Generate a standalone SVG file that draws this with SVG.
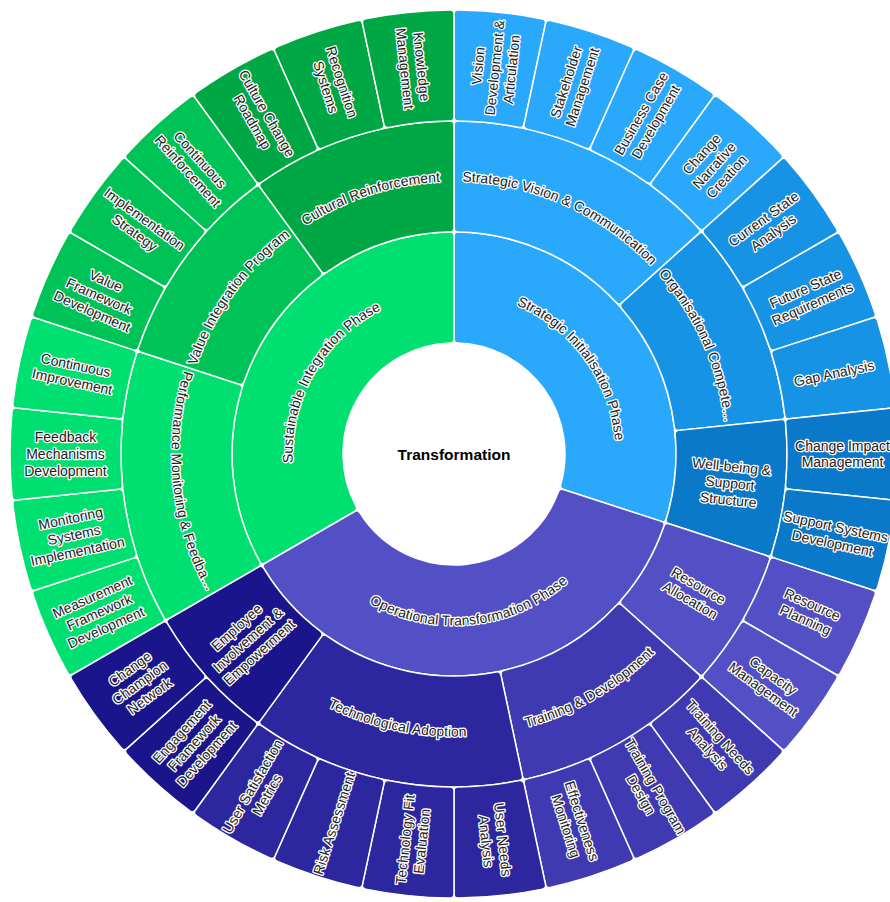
<svg xmlns="http://www.w3.org/2000/svg" width="890" height="902" viewBox="0 0 890 902">
<style>
.seg{stroke:#fff;stroke-width:1.5;stroke-linejoin:round}
.lbl{font-family:"Liberation Sans",Arial,sans-serif;font-size:14px;fill:#222;stroke:#fff;stroke-width:2.6;stroke-linejoin:round;paint-order:stroke;text-anchor:middle;dominant-baseline:central}
.arc{font-family:"Liberation Sans",Arial,sans-serif;font-size:14px;fill:#222;stroke:#fff;stroke-width:2.6;stroke-linejoin:round;paint-order:stroke;text-anchor:middle}
.ctr{font-family:"Liberation Sans",Arial,sans-serif;font-size:15.5px;font-weight:bold;fill:#000;text-anchor:middle;dominant-baseline:central}
</style>
<defs>
<path id="leaf" d="M0,-337 L0,-440 Q0,-444 4,-443.98 A444,444 0 0 1 88.40,-435.11 Q92.31,-434.30 91.48,-430.39 L70.07,-329.64 Q69.23,-325.72 65.32,-326.53 A333,333 0 0 0 4,-332.98 Q0,-333 0,-337 Z"/>
<path id="r2w48" d="M0,-226 L0,-329 Q0,-333 4,-332.98 A333,333 0 0 1 244.77,-225.78 Q247.47,-222.82 244.50,-220.14 L167.95,-151.22 Q164.98,-148.55 162.28,-151.50 A222,222 0 0 0 4,-221.96 Q0,-222 0,-226 Z"/>
<path id="r2w36" d="M0,-226 L0,-329 Q0,-333 4,-332.98 A333,333 0 0 1 192.48,-271.73 Q195.73,-269.40 193.38,-266.17 L132.84,-182.84 Q130.49,-179.60 127.23,-181.92 A222,222 0 0 0 4,-221.96 Q0,-222 0,-226 Z"/>
<path id="r2w24" d="M0,-226 L0,-329 Q0,-333 4,-332.98 A333,333 0 0 1 131.78,-305.82 Q135.44,-304.21 133.82,-300.56 L91.92,-206.46 Q90.30,-202.81 86.63,-204.40 A222,222 0 0 0 4,-221.96 Q0,-222 0,-226 Z"/>
<path id="r1w108" d="M0,-115 L0,-218 Q0,-222 4,-221.96 A222,222 0 0 1 212.34,64.79 Q211.14,68.60 207.33,67.37 L109.37,35.54 Q105.57,34.30 106.73,30.48 A111,111 0 0 0 4,-110.93 Q0,-111 0,-115 Z"/>
<path id="r1w132" d="M0,-115 L0,-218 Q0,-222 4,-221.96 A222,222 0 0 1 167.63,145.55 Q164.98,148.55 162.01,145.87 L85.46,76.95 Q82.49,74.27 85.11,71.25 A111,111 0 0 0 4,-110.93 Q0,-111 0,-115 Z"/>
<path id="r1w120" d="M0,-115 L0,-218 Q0,-222 4,-221.96 A222,222 0 0 1 194.23,107.52 Q192.26,111 188.79,109 L99.59,57.5 Q96.13,55.5 98.07,52.00 A111,111 0 0 0 4,-110.93 Q0,-111 0,-115 Z"/>
<path id="tp-strat" d="M0,-161.5 A161.5,161.5 0 0 1 153.60,49.91"/>
<path id="tp-oper" d="M-148.52,85.75 A171.5,171.5 0 0 0 163.11,53.00"/>
<path id="tp-sust" d="M-139.86,80.75 A161.5,161.5 0 0 1 0,-161.5"/>
<path id="tp-svc" d="M0,-272.5 A272.5,272.5 0 0 1 202.51,-182.34"/>
<path id="tp-org" d="M202.51,-182.34 A272.5,272.5 0 0 1 271.01,-28.48"/>
<path id="tp-train" d="M58.74,276.33 A282.5,282.5 0 0 0 209.94,189.03"/>
<path id="tp-tech" d="M-166.05,228.55 A282.5,282.5 0 0 0 58.74,276.33"/>
<path id="tp-perf" d="M-268.67,-87.30 A282.5,282.5 0 0 0 -244.65,141.25"/>
<path id="tp-value" d="M-259.16,-84.21 A272.5,272.5 0 0 1 -160.17,-220.46"/>
<path id="tp-cult" d="M-160.17,-220.46 A272.5,272.5 0 0 1 0,-272.5"/>
</defs>
<rect width="890" height="902" fill="#fff"/>
<g transform="translate(454,454)">
<g id="n-root"><circle r="111" fill="#fff"/><text class="ctr" x="0" y="0">Transformation</text></g>

<g id="n-strategic-initialisation-phase"><use href="#r1w108" class="seg" fill="#2AA9FC"/><text class="arc"><textPath href="#tp-strat" startOffset="50%">Strategic Initialisation Phase</textPath></text></g>
<g id="n-operational-transformation-phase"><use href="#r1w132" class="seg" fill="#5350C6" transform="rotate(108)"/><text class="arc"><textPath href="#tp-oper" startOffset="50%">Operational Transformation Phase</textPath></text></g>
<g id="n-sustainable-integration-phase"><use href="#r1w120" class="seg" fill="#00E070" transform="rotate(240)"/><text class="arc"><textPath href="#tp-sust" startOffset="50%">Sustainable Integration Phase</textPath></text></g>

<g id="n-strategic-vision"><use href="#r2w48" class="seg" fill="#2AA9FC"/><text class="arc"><textPath href="#tp-svc" startOffset="50%">Strategic Vision &amp; Communication</textPath></text></g>
<g id="n-organisational-competence"><use href="#r2w36" class="seg" fill="#1693E5" transform="rotate(48)"/><text class="arc"><textPath href="#tp-org" startOffset="50%">Organisational Compete…</textPath></text></g>
<g id="n-wellbeing"><use href="#r2w24" class="seg" fill="#0B79C9" transform="rotate(84)"/><text class="lbl" transform="rotate(96) translate(0,-277.5) rotate(-90)"><tspan x="0" y="-16.8">Well-being &amp;</tspan><tspan x="0" y="0">Support</tspan><tspan x="0" y="16.8">Structure</tspan></text></g>
<g id="n-resource-allocation"><use href="#r2w24" class="seg" fill="#5350C6" transform="rotate(108)"/><text class="lbl" transform="rotate(120) translate(0,-277.5) rotate(-90)"><tspan x="0" y="-8.4">Resource</tspan><tspan x="0" y="8.4">Allocation</tspan></text></g>
<g id="n-training-development"><use href="#r2w36" class="seg" fill="#3F3AB1" transform="rotate(132)"/><text class="arc"><textPath href="#tp-train" startOffset="50%">Training &amp; Development</textPath></text></g>
<g id="n-technological-adoption"><use href="#r2w48" class="seg" fill="#2D279F" transform="rotate(168)"/><text class="arc"><textPath href="#tp-tech" startOffset="50%">Technological Adoption</textPath></text></g>
<g id="n-employee-involvement"><use href="#r2w24" class="seg" fill="#1B158C" transform="rotate(216)"/><text class="lbl" transform="rotate(228) translate(0,-277.5) rotate(90)"><tspan x="0" y="-16.8">Employee</tspan><tspan x="0" y="0">Involvement &amp;</tspan><tspan x="0" y="16.8">Empowerment</tspan></text></g>
<g id="n-performance-monitoring"><use href="#r2w48" class="seg" fill="#00E070" transform="rotate(240)"/><text class="arc"><textPath href="#tp-perf" startOffset="50%">Performance Monitoring &amp; Feedba…</textPath></text></g>
<g id="n-value-integration"><use href="#r2w36" class="seg" fill="#00C357" transform="rotate(288)"/><text class="arc"><textPath href="#tp-value" startOffset="50%">Value Integration Program</textPath></text></g>
<g id="n-cultural-reinforcement"><use href="#r2w36" class="seg" fill="#00A845" transform="rotate(324)"/><text class="arc"><textPath href="#tp-cult" startOffset="50%">Cultural Reinforcement</textPath></text></g>

<g id="n-vision-development"><use href="#leaf" class="seg" fill="#2AA9FC"/><text class="lbl" transform="rotate(6) translate(0,-388.5) rotate(-90)"><tspan x="0" y="-16.8">Vision</tspan><tspan x="0" y="0">Development &amp;</tspan><tspan x="0" y="16.8">Articulation</tspan></text></g>
<g id="n-stakeholder-management"><use href="#leaf" class="seg" fill="#2AA9FC" transform="rotate(12)"/><text class="lbl" transform="rotate(18) translate(0,-388.5) rotate(-90)"><tspan x="0" y="-8.4">Stakeholder</tspan><tspan x="0" y="8.4">Management</tspan></text></g>
<g id="n-business-case"><use href="#leaf" class="seg" fill="#2AA9FC" transform="rotate(24)"/><text class="lbl" transform="rotate(30) translate(0,-388.5) rotate(-90)"><tspan x="0" y="-8.4">Business Case</tspan><tspan x="0" y="8.4">Development</tspan></text></g>
<g id="n-change-narrative"><use href="#leaf" class="seg" fill="#2AA9FC" transform="rotate(36)"/><text class="lbl" transform="rotate(42) translate(0,-388.5) rotate(-90)"><tspan x="0" y="-16.8">Change</tspan><tspan x="0" y="0">Narrative</tspan><tspan x="0" y="16.8">Creation</tspan></text></g>
<g id="n-current-state"><use href="#leaf" class="seg" fill="#1693E5" transform="rotate(48)"/><text class="lbl" transform="rotate(54) translate(0,-388.5) rotate(-90)"><tspan x="0" y="-8.4">Current State</tspan><tspan x="0" y="8.4">Analysis</tspan></text></g>
<g id="n-future-state"><use href="#leaf" class="seg" fill="#1693E5" transform="rotate(60)"/><text class="lbl" transform="rotate(66) translate(0,-388.5) rotate(-90)"><tspan x="0" y="-8.4">Future State</tspan><tspan x="0" y="8.4">Requirements</tspan></text></g>
<g id="n-gap-analysis"><use href="#leaf" class="seg" fill="#1693E5" transform="rotate(72)"/><text class="lbl" transform="rotate(78) translate(0,-388.5) rotate(-90)"><tspan x="0" y="0">Gap Analysis</tspan></text></g>
<g id="n-change-impact"><use href="#leaf" class="seg" fill="#0B79C9" transform="rotate(84)"/><text class="lbl" transform="rotate(90) translate(0,-388.5) rotate(-90)"><tspan x="0" y="-8.4">Change Impact</tspan><tspan x="0" y="8.4">Management</tspan></text></g>
<g id="n-support-systems"><use href="#leaf" class="seg" fill="#0B79C9" transform="rotate(96)"/><text class="lbl" transform="rotate(102) translate(0,-388.5) rotate(-90)"><tspan x="0" y="-8.4">Support Systems</tspan><tspan x="0" y="8.4">Development</tspan></text></g>
<g id="n-resource-planning"><use href="#leaf" class="seg" fill="#5350C6" transform="rotate(108)"/><text class="lbl" transform="rotate(114) translate(0,-388.5) rotate(-90)"><tspan x="0" y="-8.4">Resource</tspan><tspan x="0" y="8.4">Planning</tspan></text></g>
<g id="n-capacity-management"><use href="#leaf" class="seg" fill="#5350C6" transform="rotate(120)"/><text class="lbl" transform="rotate(126) translate(0,-388.5) rotate(-90)"><tspan x="0" y="-8.4">Capacity</tspan><tspan x="0" y="8.4">Management</tspan></text></g>
<g id="n-training-needs"><use href="#leaf" class="seg" fill="#3F3AB1" transform="rotate(132)"/><text class="lbl" transform="rotate(138) translate(0,-388.5) rotate(-90)"><tspan x="0" y="-8.4">Training Needs</tspan><tspan x="0" y="8.4">Analysis</tspan></text></g>
<g id="n-training-program"><use href="#leaf" class="seg" fill="#3F3AB1" transform="rotate(144)"/><text class="lbl" transform="rotate(150) translate(0,-388.5) rotate(-90)"><tspan x="0" y="-8.4">Training Program</tspan><tspan x="0" y="8.4">Design</tspan></text></g>
<g id="n-effectiveness-monitoring"><use href="#leaf" class="seg" fill="#3F3AB1" transform="rotate(156)"/><text class="lbl" transform="rotate(162) translate(0,-388.5) rotate(-90)"><tspan x="0" y="-8.4">Effectiveness</tspan><tspan x="0" y="8.4">Monitoring</tspan></text></g>
<g id="n-user-needs"><use href="#leaf" class="seg" fill="#2D279F" transform="rotate(168)"/><text class="lbl" transform="rotate(174) translate(0,-388.5) rotate(-90)"><tspan x="0" y="-8.4">User Needs</tspan><tspan x="0" y="8.4">Analysis</tspan></text></g>
<g id="n-technology-fit"><use href="#leaf" class="seg" fill="#2D279F" transform="rotate(180)"/><text class="lbl" transform="rotate(186) translate(0,-388.5) rotate(90)"><tspan x="0" y="-8.4">Technology Fit</tspan><tspan x="0" y="8.4">Evaluation</tspan></text></g>
<g id="n-risk-assessment"><use href="#leaf" class="seg" fill="#2D279F" transform="rotate(192)"/><text class="lbl" transform="rotate(198) translate(0,-388.5) rotate(90)"><tspan x="0" y="0">Risk Assessment</tspan></text></g>
<g id="n-user-satisfaction"><use href="#leaf" class="seg" fill="#2D279F" transform="rotate(204)"/><text class="lbl" transform="rotate(210) translate(0,-388.5) rotate(90)"><tspan x="0" y="-8.4">User Satisfaction</tspan><tspan x="0" y="8.4">Metrics</tspan></text></g>
<g id="n-engagement-framework"><use href="#leaf" class="seg" fill="#1B158C" transform="rotate(216)"/><text class="lbl" transform="rotate(222) translate(0,-388.5) rotate(90)"><tspan x="0" y="-16.8">Engagement</tspan><tspan x="0" y="0">Framework</tspan><tspan x="0" y="16.8">Development</tspan></text></g>
<g id="n-change-champion"><use href="#leaf" class="seg" fill="#1B158C" transform="rotate(228)"/><text class="lbl" transform="rotate(234) translate(0,-388.5) rotate(90)"><tspan x="0" y="-16.8">Change</tspan><tspan x="0" y="0">Champion</tspan><tspan x="0" y="16.8">Network</tspan></text></g>
<g id="n-measurement-framework"><use href="#leaf" class="seg" fill="#00E070" transform="rotate(240)"/><text class="lbl" transform="rotate(246) translate(0,-388.5) rotate(90)"><tspan x="0" y="-16.8">Measurement</tspan><tspan x="0" y="0">Framework</tspan><tspan x="0" y="16.8">Development</tspan></text></g>
<g id="n-monitoring-systems"><use href="#leaf" class="seg" fill="#00E070" transform="rotate(252)"/><text class="lbl" transform="rotate(258) translate(0,-388.5) rotate(90)"><tspan x="0" y="-16.8">Monitoring</tspan><tspan x="0" y="0">Systems</tspan><tspan x="0" y="16.8">Implementation</tspan></text></g>
<g id="n-feedback-mechanisms"><use href="#leaf" class="seg" fill="#00E070" transform="rotate(264)"/><text class="lbl" transform="rotate(270) translate(0,-388.5) rotate(90)"><tspan x="0" y="-16.8">Feedback</tspan><tspan x="0" y="0">Mechanisms</tspan><tspan x="0" y="16.8">Development</tspan></text></g>
<g id="n-continuous-improvement"><use href="#leaf" class="seg" fill="#00E070" transform="rotate(276)"/><text class="lbl" transform="rotate(282) translate(0,-388.5) rotate(90)"><tspan x="0" y="-8.4">Continuous</tspan><tspan x="0" y="8.4">Improvement</tspan></text></g>
<g id="n-value-framework"><use href="#leaf" class="seg" fill="#00C357" transform="rotate(288)"/><text class="lbl" transform="rotate(294) translate(0,-388.5) rotate(90)"><tspan x="0" y="-16.8">Value</tspan><tspan x="0" y="0">Framework</tspan><tspan x="0" y="16.8">Development</tspan></text></g>
<g id="n-implementation-strategy"><use href="#leaf" class="seg" fill="#00C357" transform="rotate(300)"/><text class="lbl" transform="rotate(306) translate(0,-388.5) rotate(90)"><tspan x="0" y="-8.4">Implementation</tspan><tspan x="0" y="8.4">Strategy</tspan></text></g>
<g id="n-continuous-reinforcement"><use href="#leaf" class="seg" fill="#00C357" transform="rotate(312)"/><text class="lbl" transform="rotate(318) translate(0,-388.5) rotate(90)"><tspan x="0" y="-8.4">Continuous</tspan><tspan x="0" y="8.4">Reinforcement</tspan></text></g>
<g id="n-culture-change"><use href="#leaf" class="seg" fill="#00A845" transform="rotate(324)"/><text class="lbl" transform="rotate(330) translate(0,-388.5) rotate(90)"><tspan x="0" y="-8.4">Culture Change</tspan><tspan x="0" y="8.4">Roadmap</tspan></text></g>
<g id="n-recognition-systems"><use href="#leaf" class="seg" fill="#00A845" transform="rotate(336)"/><text class="lbl" transform="rotate(342) translate(0,-388.5) rotate(90)"><tspan x="0" y="-8.4">Recognition</tspan><tspan x="0" y="8.4">Systems</tspan></text></g>
<g id="n-knowledge-management"><use href="#leaf" class="seg" fill="#00A845" transform="rotate(348)"/><text class="lbl" transform="rotate(354) translate(0,-388.5) rotate(90)"><tspan x="0" y="-8.4">Knowledge</tspan><tspan x="0" y="8.4">Management</tspan></text></g>
</g>
</svg>
